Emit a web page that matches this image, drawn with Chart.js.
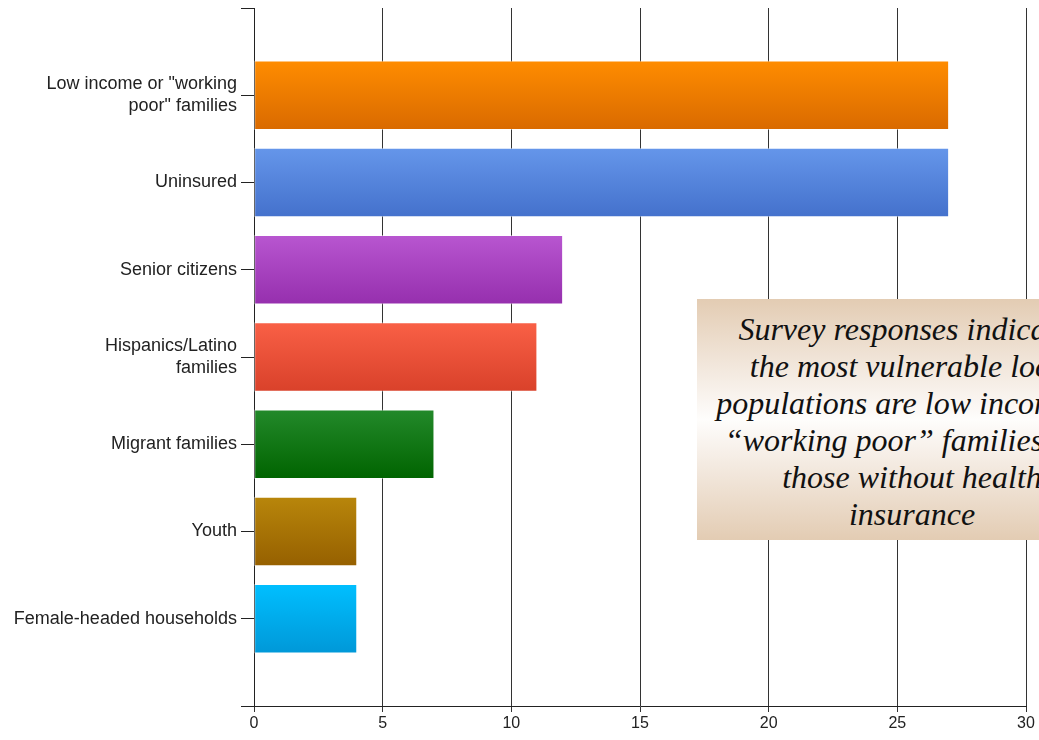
<!DOCTYPE html>
<html>
<head>
<meta charset="utf-8">
<script src="https://cdn.jsdelivr.net/npm/chart.js@4/dist/chart.umd.min.js"></script>
<style>
  html, body { margin: 0; padding: 0; background: #fff; overflow: hidden; }
  #wrap { position: relative; width: 1039px; height: 740px; }
  #note {
    position: absolute; left: 697px; top: 299px; width: 430px; height: 241px;
    background: linear-gradient(to bottom, #e3ccb3 0%, #f3e9df 30%, #fefdfc 50%, #f3e9df 70%, #e3ccb3 100%);
    font-family: "Liberation Serif", "Times New Roman", serif; font-style: italic;
    font-size: 32px; line-height: 37px; color: #111; text-align: center;
    padding-top: 12px; box-sizing: border-box; white-space: nowrap;
  }
</style>
</head>
<body>
<div id="wrap">
  <canvas id="chart" width="1039" height="740"></canvas>
  <div id="note">Survey responses indicated<br>the most vulnerable local<br>populations are low income or<br>“working poor” families and<br>those without health<br>insurance</div>
</div>
<script>
// populations named as most vulnerable (number of responses)
var categories = [
  ['Low income or "working', 'poor" families'],
  'Uninsured',
  'Senior citizens',
  ['Hispanics/Latino', 'families'],
  'Migrant families',
  'Youth',
  'Female-headed households'
];
var responses = [27, 27, 12, 11, 7, 4, 4];
var xTicks = [0, 5, 10, 15, 20, 25, 30];

// top / bottom colour of each bar's gradient
var topColors = ['#ff8c00', '#6596ea', '#b856d0', '#f96046', '#23892a', '#b8860b', '#00bfff'];
var bottomColors = ['#d96a00', '#4471cc', '#962fae', '#d9412a', '#006400', '#966000', '#0098d8'];

// pad an empty slot at each end so the axis has ticks at the top and bottom
var labels = [''].concat(categories, ['']);
var data = [null].concat(responses, [null]);

var BAR_H = 69;

function barGradient(ctx) {
  var chart = ctx.chart;
  var i = ctx.dataIndex - 1;
  if (i < 0 || i >= responses.length || !chart.chartArea) return topColors[0];
  var yc = chart.scales.y.getPixelForValue(ctx.dataIndex);
  var g = chart.ctx.createLinearGradient(0, yc - BAR_H / 2, 0, yc + BAR_H / 2);
  g.addColorStop(0, topColors[i]);
  g.addColorStop(1, bottomColors[i]);
  return g;
}

new Chart(document.getElementById('chart'), {
  type: 'bar',
  data: {
    labels: labels,
    datasets: [{
      data: data,
      backgroundColor: barGradient,
      borderColor: 'rgba(255,255,255,0.45)',
      borderWidth: 1,
      borderSkipped: false,
      barThickness: BAR_H
    }]
  },
  options: {
    indexAxis: 'y',
    responsive: false,
    animation: false,
    layout: { padding: { top: 8, right: 13, left: 0, bottom: 0 } },
    plugins: { legend: { display: false }, tooltip: { enabled: false } },
    scales: {
      x: {
        min: 0, max: 30,
        afterBuildTicks: function (s) { s.ticks = xTicks.map(function (v) { return { value: v }; }); },
        grid: { color: '#333', lineWidth: 1, tickLength: 6, drawTicks: true },
        border: { color: '#222', width: 1 },
        ticks: {
          color: '#222', padding: 2,
          font: { family: 'Liberation Sans, Arial, sans-serif', size: 16 }
        },
        afterFit: function (s) { s.height = 34; }
      },
      y: {
        offset: false,
        grid: { offset: false, drawOnChartArea: false, color: '#222', tickLength: 13 },
        border: { color: '#222', width: 1 },
        ticks: {
          color: '#222', padding: 4, autoSkip: false,
          font: { family: 'Liberation Sans, Arial, sans-serif', size: 18 }
        },
        afterFit: function (s) { s.width = 254; s.paddingTop = 0; s.paddingBottom = 0; }
      }
    }
  }
});
</script>
</body>
</html>
